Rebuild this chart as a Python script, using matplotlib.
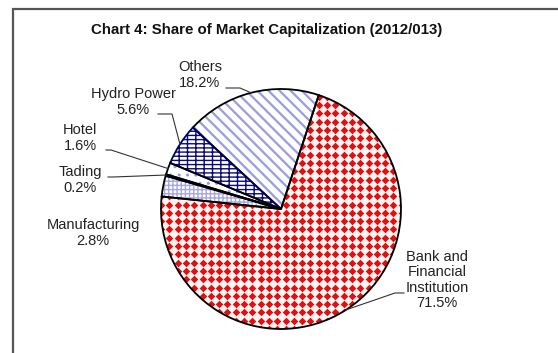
import numpy as np
import matplotlib
matplotlib.use("Agg")
import matplotlib.pyplot as plt
from matplotlib.patches import Rectangle

plt.rcParams['font.family'] = ['Liberation Sans', 'DejaVu Sans']

# market capitalization share, 2012/013 (%)
sectors = ["Bank and\nFinancial\nInstitution", "Others", "Hydro Power", "Hotel", "Tading", "Manufacturing"]
shares = [71.5, 18.2, 5.6, 1.6, 0.2, 2.8]
share_labels = ["71.5%", "18.2%", "5.6%", "1.6%", "0.2%", "2.8%"]

W, H = 558, 353
fig = plt.figure(figsize=(W / 100, H / 100), dpi=100)
ax = fig.add_axes([0, 0, 1, 1])

cx, cy, r = 281, 144, 120

fills = ["#fff4f4", "white", "white", "white", "white", "white"]
hatch_cols = ["#fff4f4", "#9c9cdc", "#0a0a78", "#9c9cdc", "#9c9cdc", "#a8a8e0"]
hatches = [None, "\\\\\\", "++--", "..", None, "++++"]

# fills and hatch textures
wedges, _ = ax.pie(shares, colors=fills, startangle=174, counterclock=True,
                   center=(cx, cy), radius=r, wedgeprops=dict(linewidth=0))
for w, hc, h in zip(wedges, hatch_cols, hatches):
    w.set_edgecolor(hc)
    if h:
        w.set_hatch(h)
        if hasattr(w, "set_hatch_linewidth"):
            w.set_hatch_linewidth(1.6 if h.startswith("\\") else 1.0)

# red diamond pattern inside the bank slice
step = 8.3
gx, gy = np.meshgrid(np.arange(cx - r, cx + r + step, step),
                     np.arange(cy - r, cy + r + step, step))
dots = ax.scatter(gx.ravel(), gy.ravel(), marker="D", s=15, c="#e01010",
                  linewidths=0, zorder=2)
dots.set_clip_path(wedges[0])

# slice outlines
outl, _ = ax.pie(shares, colors=["none"] * 6, startangle=174, counterclock=True,
                 center=(cx, cy), radius=r,
                 wedgeprops=dict(edgecolor="black", linewidth=1.3, fill=False))
for w in outl:
    w.set_zorder(3)
outl[2].set_edgecolor("#000060")

ax.set_xlim(0, W)
ax.set_ylim(0, H)
ax.set_aspect("auto")
ax.axis("off")

# label positions and leader line elbows
label_pos = [(437, 73), (200, 278), (133, 251), (80, 215), (80, 173), (93, 120)]
leader = [[(404, 60), (395, 60)], [(226, 265), (240, 265)], [(158, 239), (172, 239)],
          [(106, 203), (111, 203)], [(108, 176), (113, 176)], None]

for w, name, lab, pos, ld in zip(outl, sectors, share_labels, label_pos, leader):
    ax.text(pos[0], pos[1], name + "\n" + lab, ha="center", va="center",
            fontsize=10.5, color="#222222", linespacing=1.15, zorder=5)
    if ld:
        mid = np.deg2rad((w.theta1 + w.theta2) / 2)
        ex, ey = cx + r * np.cos(mid), cy + r * np.sin(mid)
        xs = [ld[0][0], ld[1][0], ex]
        ys = [ld[0][1], ld[1][1], ey]
        ax.plot(xs, ys, color="#333333", linewidth=0.8, zorder=4)

ax.text(267, 323, "Chart 4: Share of Market Capitalization (2012/013)",
        ha="center", va="center", fontsize=10.8, fontweight="bold", color="#111111")

# chart area border
ax.add_patch(Rectangle((12.5, -20), 600, 353 - 8.5 + 20, fill=False,
                       edgecolor="#555555", linewidth=1.6, zorder=6))

fig.savefig("out.png", dpi=100)
